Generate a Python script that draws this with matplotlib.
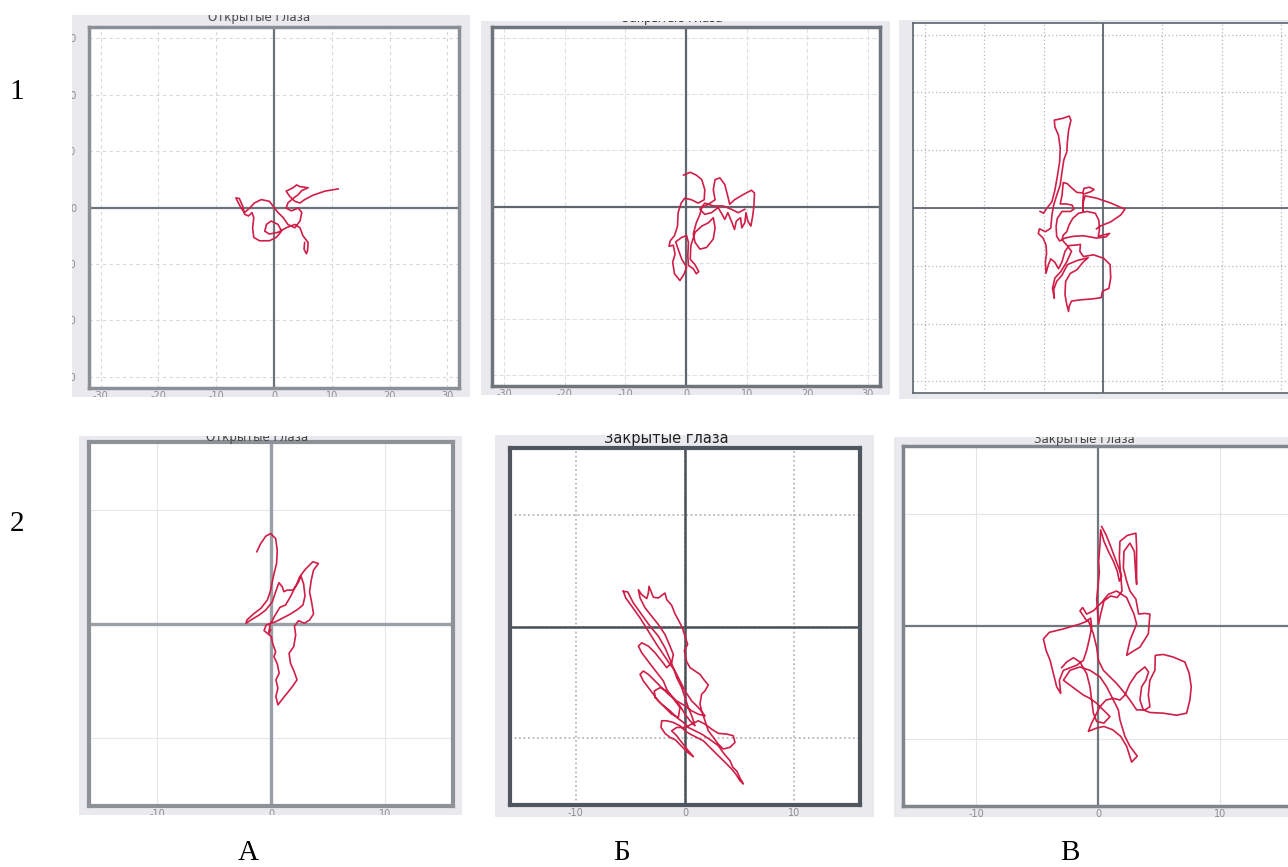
import matplotlib.pyplot as plt
from matplotlib.patches import Rectangle

# ---------- траектории ЦД (единицы осей) ----------
trace_1a = [(11.1, 3.3), (8.8, 2.9), (6.8, 2.2), (5.3, 1.4), (4.5, 0.8), (3.6, 1.1), (2.7, 2.0),
            (2.1, 2.9), (3.3, 3.5), (3.9, 4.0), (4.5, 3.7), (5.9, 3.5), (4.8, 3.0), (4.2, 2.3),
            (3.3, 1.6), (2.4, 0.8), (2.1, -0.1), (3.0, -0.6), (4.2, -0.1), (4.8, -0.9), (4.5, -2.4),
            (3.6, -3.6), (2.4, -3.0), (1.6, -1.8), (0.7, -0.9), (0.1, -0.1), (-0.8, 1.1), (-2.2, 1.4),
            (-3.4, 0.8), (-4.2, -0.1), (-5.1, -0.9), (-5.7, -0.1), (-6.3, 1.1), (-6.6, 1.7), (-6.0, 1.6),
            (-5.4, 0.2), (-5.1, -1.2), (-4.4, -1.5), (-3.8, -0.9), (-3.5, -1.8), (-3.7, -3.6),
            (-3.5, -5.3), (-2.5, -5.9), (-0.8, -5.9), (0.4, -5.3), (1.3, -4.2), (0.7, -3.0),
            (-0.5, -2.4), (-1.3, -3.0), (-1.6, -4.2), (-0.8, -4.7), (0.7, -4.4), (2.1, -3.6),
            (3.6, -3.0), (4.5, -3.6), (5.0, -5.0), (5.9, -6.2), (5.8, -7.7), (5.6, -8.2), (5.2, -7.4),
            (5.3, -6.2)]

trace_1b = [(-0.4, 5.6), (0.7, 6.1), (1.7, 5.6), (2.6, 4.8), (3.1, 3.0), (3.0, 1.2), (2.0, 0.6),
            (0.9, 1.2), (-0.2, 1.5), (-0.8, 0.6), (-1.3, -1.1), (-1.4, -3.5), (-1.9, -5.2), (-2.6, -6.1),
            (-2.8, -7.1), (-2.1, -6.9), (-1.8, -8.5), (-2.2, -9.9), (-1.9, -12.0), (-1.0, -13.2),
            (-0.3, -12.0), (0.1, -10.8), (-0.7, -9.4), (-1.3, -7.6), (-1.7, -6.3), (-0.7, -5.5),
            (0.1, -5.2), (0.4, -6.4), (0.3, -8.8), (0.4, -10.5), (1.2, -11.1), (1.7, -12.0),
            (2.1, -11.6), (1.5, -10.4), (0.7, -9.4), (0.8, -7.0), (1.5, -4.6), (2.6, -3.5),
            (3.7, -2.9), (4.5, -2.0), (4.8, -3.8), (4.5, -5.8), (3.4, -7.3), (2.3, -7.6), (1.5, -6.4),
            (1.2, -4.9), (1.7, -2.9), (2.3, -1.4), (2.6, -0.2), (3.7, 0.4), (4.8, 1.2), (4.5, 3.0),
            (4.8, 4.8), (5.6, 5.1), (6.4, 3.9), (6.9, 1.8), (7.2, 0.4), (8.0, 1.2), (9.4, 2.1),
            (10.8, 2.9), (11.3, 2.4), (11.2, 0.1), (11.0, -1.7), (10.7, -3.5), (10.2, -2.6),
            (9.9, -1.1), (9.7, -2.9), (9.2, -3.8), (9.0, -2.0), (8.3, -2.6), (8.0, -4.1), (7.6, -2.9),
            (6.9, -1.1), (6.4, -2.3), (5.8, -1.1), (5.3, -0.2), (4.2, -1.1), (3.1, -1.4), (2.3, -0.5),
            (3.1, 0.6), (4.5, 0.1), (6.1, 0.1), (7.5, -0.5), (8.6, -1.1), (9.7, -0.5)]

trace_1c = [(-10.6, -0.6), (-10.0, -0.9), (-9.5, -0.1), (-8.6, 1.1), (-8.1, 3.1), (-7.7, 5.4),
            (-7.3, 8.0), (-7.2, 10.3), (-7.5, 12.6), (-8.1, 14.0), (-8.2, 15.2), (-6.8, 15.5),
            (-5.7, 15.9), (-5.4, 15.2), (-5.8, 13.4), (-6.0, 11.4), (-6.1, 9.7), (-6.6, 8.3),
            (-6.9, 6.3), (-7.2, 4.0), (-7.8, 2.2), (-8.3, 0.5), (-8.6, -1.2), (-8.8, -3.5),
            (-9.7, -4.1), (-10.7, -3.6), (-10.9, -4.4), (-10.1, -5.2), (-9.6, -6.4), (-9.5, -7.8),
            (-9.7, -9.3), (-9.6, -11.3), (-9.2, -9.8), (-8.8, -8.8), (-8.1, -9.4), (-7.5, -10.5),
            (-6.9, -9.3), (-6.4, -7.5), (-5.7, -6.5), (-4.5, -6.4), (-3.8, -6.3), (-3.9, -7.5),
            (-3.3, -8.4), (-1.6, -8.1), (0.1, -8.7), (1.2, -9.8), (1.3, -12.1), (1.0, -13.9),
            (-0.1, -14.4), (-0.3, -15.5), (-1.6, -15.7), (-3.9, -15.9), (-5.3, -16.1), (-5.7, -17.0),
            (-5.8, -17.9), (-6.1, -16.7), (-6.4, -15.0), (-6.3, -12.7), (-5.5, -11.3), (-4.4, -10.7),
            (-3.3, -9.3), (-2.5, -8.6), (-4.4, -9.1), (-6.0, -9.8), (-6.9, -11.6), (-7.8, -12.7),
            (-8.3, -14.1), (-8.2, -15.6), (-8.5, -13.9), (-8.1, -12.1), (-7.1, -11.0), (-6.1, -9.3),
            (-5.3, -7.5), (-6.1, -6.4), (-6.9, -5.5), (-6.7, -4.7), (-6.1, -4.1), (-5.7, -2.9),
            (-5.1, -1.8), (-4.1, -0.9), (-2.7, -0.6), (-1.3, -0.9), (-0.7, -2.1), (-0.6, -3.8),
            (-0.8, -4.9), (1.1, -4.4), (0.5, -5.0), (-1.1, -5.2), (-3.3, -4.8), (-5.0, -4.9),
            (-6.4, -5.2), (-7.3, -5.7), (-7.8, -4.9), (-7.9, -3.2), (-7.7, -1.8), (-6.9, -0.6),
            (-5.5, -0.6), (-4.9, -0.2), (-5.2, 0.5), (-6.2, 0.7), (-7.2, 0.7), (-6.9, 2.2),
            (-6.7, 4.4), (-6.0, 4.2), (-5.3, 3.5), (-4.4, 2.7), (-3.4, 2.6), (-3.2, 3.4), (-2.3, 3.6),
            (-1.5, 3.2), (-2.1, 2.8), (-3.3, 2.4), (-3.4, 1.1), (-3.4, -0.6), (-3.3, 1.1), (-3.0, 2.1),
            (-1.1, 1.7), (1.2, 0.9), (3.7, -0.2), (3.0, -1.2), (1.3, -2.4), (-0.4, -3.1), (-1.1, -3.6)]

trace_2a = [(-1.25, 6.35), (-0.9, 7.08), (-0.46, 7.72), (-0.03, 7.95), (0.41, 7.51), (0.55, 6.49),
            (0.49, 5.32), (0.2, 4.15), (-0.03, 2.98), (-0.32, 2.11), (-0.9, 1.37), (-1.54, 0.88),
            (-2.12, 0.35), (-2.2, 0.06), (-1.77, 0.35), (-1.04, 0.79), (-0.46, 1.23), (0.12, 1.96),
            (0.41, 2.84), (0.7, 3.63), (0.99, 3.27), (1.13, 2.84), (1.42, 2.98), (1.94, 2.98),
            (2.23, 3.42), (2.52, 4.15), (3.01, 4.8), (3.68, 5.47), (4.17, 5.32), (3.74, 4.74),
            (3.54, 3.86), (3.39, 2.84), (3.59, 1.81), (3.74, 0.88), (3.39, 0.35), (2.93, 0.06),
            (2.43, 0.29), (2.06, -0.18), (2.17, -0.96), (2.0, -1.99), (1.59, -2.57), (1.71, -3.45),
            (2.0, -4.09), (2.29, -4.91), (1.88, -5.5), (1.42, -6.08), (0.99, -6.61), (0.61, -7.11),
            (0.43, -6.37), (0.61, -5.64), (0.43, -4.91), (0.72, -4.33), (0.55, -3.51), (0.26, -2.87),
            (0.41, -2.43), (0.14, -1.7), (0.03, -1.11), (-0.32, -0.82), (-0.61, -0.58), (-0.43, -0.09),
            (-0.03, 0.06), (0.41, 0.2), (0.99, 0.5), (1.71, 0.88), (2.35, 1.29), (2.81, 1.67),
            (2.99, 2.46), (2.87, 3.51), (2.64, 4.21), (2.43, 3.71), (2.14, 3.27), (1.71, 2.4),
            (1.28, 1.67), (0.78, 1.46), (0.32, 0.7), (-0.09, -0.09), (-0.2, -0.82), (-0.03, -0.53)]

trace_2b = [(-5.63, 3.15), (-5.24, 3.1), (-4.72, 2.11), (-3.96, 1.07), (-3.2, 0.03), (-2.44, -0.86),
            (-1.83, -1.9), (-1.37, -2.95), (-1.07, -3.69), (-0.76, -4.58), (-0.3, -5.48), (0.0, -6.37),
            (0.3, -7.26), (0.67, -8.15), (0.91, -8.9), (0.46, -8.45), (0.0, -7.86), (-0.46, -7.11),
            (-1.07, -6.37), (-1.67, -5.77), (-2.28, -5.48), (-2.8, -5.77), (-2.74, -6.37), (-2.13, -6.96),
            (-1.37, -7.56), (-0.76, -8.15), (-0.15, -8.6), (0.3, -9.05), (0.91, -9.35), (1.52, -9.64),
            (1.98, -9.94), (2.44, -10.24), (3.04, -10.68), (3.59, -11.43), (4.11, -12.02), (4.38, -12.62),
            (4.75, -12.98), (5.02, -13.57), (5.33, -14.11), (5.02, -13.81), (4.63, -13.21), (4.26, -12.77),
            (3.81, -12.32), (3.35, -11.88), (2.89, -11.43), (2.28, -10.83), (1.67, -10.24), (1.07, -9.94),
            (0.46, -9.64), (0.0, -9.35), (-0.46, -8.9), (-1.07, -8.6), (-1.67, -8.45), (-2.13, -8.45),
            (-2.19, -9.05), (-1.83, -9.58), (-1.37, -9.94), (-0.85, -10.18), (-0.37, -10.68), (0.24, -11.28),
            (0.76, -11.67), (0.3, -11.13), (-0.3, -10.39), (-0.76, -9.79), (-1.22, -9.35), (-0.76, -9.05),
            (0.0, -9.05), (0.61, -8.75), (1.22, -8.45), (1.83, -8.75), (2.44, -9.2), (3.04, -9.58),
            (3.81, -9.64), (4.41, -9.79), (4.57, -10.39), (4.11, -10.83), (3.5, -10.98), (3.04, -10.54),
            (2.59, -9.94), (2.13, -9.35), (1.83, -8.45), (1.52, -7.56), (1.37, -6.96), (1.52, -6.07),
            (1.83, -5.77), (2.13, -5.24), (1.77, -4.82), (1.37, -4.29), (0.91, -3.99), (0.46, -3.69),
            (0.15, -3.15), (-0.06, -2.14), (0.24, -1.61), (0.0, -0.86), (-0.24, -0.12), (-0.55, 0.48),
            (-0.91, 1.13), (-1.22, 1.9), (-1.67, 2.41), (-1.83, 3.0), (-2.44, 2.56), (-2.89, 2.62),
            (-3.29, 3.6), (-3.35, 3.0), (-3.5, 2.5), (-3.96, 2.86), (-4.26, 3.3), (-4.11, 2.56),
            (-3.65, 1.67), (-3.04, 0.92), (-2.44, 0.18), (-1.83, -0.71), (-1.37, -1.76), (-1.07, -2.5),
            (-1.22, -3.24), (-1.67, -3.69), (-2.13, -3.1), (-2.74, -2.35), (-3.35, -1.76), (-3.96, -1.46),
            (-4.26, -1.76), (-3.96, -2.35), (-3.5, -2.95), (-3.04, -3.54), (-2.44, -4.29), (-1.98, -4.88),
            (-1.67, -5.63), (-1.37, -6.07), (-0.91, -6.67), (-0.46, -7.26), (-0.61, -8.15), (-1.22, -7.86),
            (-1.83, -7.26), (-2.44, -6.67), (-2.89, -6.07), (-3.35, -5.48), (-3.81, -4.88), (-4.11, -4.29),
            (-3.81, -3.99), (-3.35, -4.29), (-2.74, -4.88), (-2.13, -5.48), (-1.52, -6.07), (-0.76, -6.67),
            (0.0, -7.11), (0.61, -7.56), (1.22, -7.86), (1.83, -8.01), (1.22, -7.26), (0.61, -6.67),
            (0.0, -5.77), (-0.46, -4.88), (-0.91, -3.99), (-1.37, -3.39), (-1.98, -2.5), (-2.59, -1.61),
            (-3.35, -0.42), (-4.11, 0.77), (-4.87, 1.82), (-5.42, 2.56), (-5.63, 3.15)]

trace_2c = [(0.30, 8.84), (0.66, 8.11), (1.04, 7.08), (1.39, 6.05), (1.75, 5.02), (1.94, 4.43),
            (1.75, 3.99), (1.58, 4.88), (1.26, 5.76), (0.85, 6.64), (0.49, 7.52), (0.22, 8.55),
            (0.16, 7.22), (0.05, 5.76), (0.11, 4.73), (0.0, 3.55), (-0.11, 2.38), (-0.03, 1.20),
            (0.05, 0.18), (0.22, 1.06), (0.49, 2.23), (1.04, 2.67), (1.58, 2.53), (1.97, 3.11),
            (1.86, 4.58), (1.75, 6.05), (1.80, 7.52), (2.40, 8.05), (3.11, 8.25), (3.17, 6.93),
            (3.17, 5.46), (3.17, 3.70), (3.06, 5.17), (2.98, 6.64), (2.62, 7.37), (2.13, 6.64),
            (2.08, 5.17), (2.35, 3.99), (2.62, 3.11), (3.11, 2.38), (3.33, 1.06), (3.85, 1.12),
            (4.26, 1.06), (4.13, -0.70), (3.44, -1.88), (2.90, -2.23), (2.35, -2.61), (2.62, -1.29),
            (3.17, 0.18), (2.95, 1.06), (2.35, 2.53), (1.53, 3.11), (0.85, 2.82), (0.30, 2.09),
            (-0.38, 1.35), (-0.93, 1.06), (-1.26, 1.64), (-1.48, 1.35), (-0.93, 0.47), (-0.60, 0.70),
            (-0.52, -0.12), (-0.71, -1.15), (-0.93, -2.17), (-1.20, -3.05), (-1.75, -3.49), (-2.84, -3.94),
            (-3.17, -4.82), (-3.06, -5.99), (-3.39, -5.40), (-3.66, -4.23), (-3.93, -3.05), (-4.26, -2.17),
            (-4.48, -1.15), (-3.99, -0.56), (-2.84, -0.26), (-1.48, 0.18), (-0.79, 0.47), (-0.38, -0.70),
            (-0.11, -1.88), (0.03, -3.05), (0.44, -3.94), (0.98, -4.52), (1.53, -5.11), (2.21, -5.99),
            (2.62, -6.58), (3.17, -7.46), (3.85, -7.46), (4.26, -7.17), (4.13, -6.14), (4.26, -4.82),
            (4.67, -3.94), (4.70, -2.61), (5.36, -2.53), (6.17, -2.76), (7.13, -3.20), (7.49, -4.23),
            (7.65, -5.40), (7.54, -6.58), (7.27, -7.75), (6.45, -7.93), (5.36, -7.75), (4.26, -7.69),
            (3.72, -7.46), (3.44, -6.58), (3.58, -5.40), (3.93, -4.82), (4.15, -4.08), (3.85, -3.64),
            (3.17, -4.23), (2.62, -5.11), (2.21, -6.14), (1.80, -6.58), (1.26, -6.43), (0.66, -6.58),
            (0.16, -7.17), (-0.11, -7.75), (-0.52, -8.63), (-0.79, -9.37), (-0.11, -9.07), (0.49, -8.93),
            (1.20, -9.22), (1.86, -9.81), (2.35, -10.69), (2.76, -12.10), (3.22, -11.57), (2.62, -10.69),
            (2.21, -9.81), (1.80, -8.34), (1.67, -7.46), (1.26, -6.58), (0.71, -5.40), (0.16, -4.52),
            (-0.66, -3.94), (-1.48, -3.64), (-2.30, -3.94), (-2.84, -4.82), (-2.30, -5.26), (-1.75, -5.70),
            (-1.20, -6.14), (-0.66, -6.43), (-0.11, -6.87), (0.44, -7.46), (0.98, -8.05), (0.49, -8.63),
            (-0.11, -8.49), (-0.38, -7.75), (-0.52, -6.58), (-0.66, -5.40), (-0.93, -4.23), (-1.48, -3.20),
            (-2.02, -2.82), (-2.57, -3.20), (-2.98, -3.70)]

titles = ['Открытые глаза', 'Закрытые глаза', '', 'Открытые глаза', 'Закрытые глаза', 'Закрытые глаза']
row_labels = ['1', '2']
col_labels = ['А', 'Б', 'В']
ticks_row1 = [-30, -20, -10, 0, 10, 20, 30]
ticks_row2 = [-10, 0, 10]
############################################################################

W, H = 1288, 867
fig = plt.figure(figsize=(W / 100, H / 100), dpi=100)
fig.patch.set_facecolor('white')


def px_rect(x0, y0, x1, y1, color, z):
    fig.patches.append(Rectangle((x0 / W, 1 - y1 / H), (x1 - x0) / W, (y1 - y0) / H,
                                 transform=fig.transFigure, facecolor=color,
                                 edgecolor='none', zorder=z))


# shot = серая рамка скриншота, box = сама область графика (пиксели)
panels = [
    dict(pts=trace_1a, shot=(72, 14, 470, 397), box=(89, 27, 459, 388), lim=32, ticks=ticks_row1,
         xlab=True, ylab=True, spine=('#8a9096', 2.5), grid=('#d3d9dc', (0, (3, 3)), 0.8),
         cross=('#6c737a', 1.6), title=(titles[0], 259, 18, 8.5, '#4a4a4a', 15)),
    dict(pts=trace_1b, shot=(481, 20, 890, 395), box=(492, 27, 880, 386), lim=32, ticks=ticks_row1,
         xlab=True, ylab=False, spine=('#6f757c', 2.5), grid=('#dde2e5', (0, (4, 2)), 0.8),
         cross=('#5f666e', 1.6), title=(titles[1], 672, 18.5, 8.5, '#333333', 21)),
    dict(pts=trace_1c, shot=(899, 20, 1288, 399), box=(913, 23, 1293, 393), lim=32, ticks=ticks_row1,
         xlab=False, ylab=False, spine=('#5d6470', 1.2), grid=('#b9b9b9', (0, (1, 2)), 0.9),
         cross=('#5f6670', 1.3), title=(titles[2], 1062, 20, 8, '#333333', 20)),
    dict(pts=trace_2a, shot=(79, 436, 462, 815), box=(89, 442, 453, 806), lim=16, ticks=ticks_row2,
         xlab=True, ylab=False, spine=('#8c9298', 3.0), grid=('#e4e8ea', '-', 0.8),
         cross=('#9aa0a6', 2.4), title=(titles[3], 257, 437, 8.5, '#444444', 436)),
    dict(pts=trace_2b, shot=(495, 435, 874, 817), box=(510, 448, 860, 805), lim=16, ticks=ticks_row2,
         xlab=True, ylab=False, spine=('#4f5660', 3.0), grid=('#b4b9bd', (0, (1, 1.5)), 1.3),
         cross=('#4a5058', 1.8), title=(titles[4], 666, 438, 10.5, '#222222', 434)),
    dict(pts=trace_2c, shot=(894, 437, 1288, 817), box=(903, 446, 1293, 806), lim=16, ticks=ticks_row2,
         xlab=True, ylab=False, spine=('#80868c', 2.5), grid=('#e2e6e8', '-', 0.8),
         cross=('#70787e', 1.6), title=(titles[5], 1084, 440, 8.5, '#444444', 437)),
]

for p in panels:
    sx0, sy0, sx1, sy1 = p['shot']
    t, tx, ty, ts, tcol, cut = p['title']
    px_rect(sx0, sy0, sx1, sy1, '#e9e9ee', -5)
    # то, что вылезает за скриншот, в оригинале обрезано
    px_rect(sx0 - 2, sy0 - 24, sx1 + 2, cut, 'white', 10)
    px_rect(sx0 - 2, sy1, sx1 + 2, sy1 + 20, 'white', 10)

    x0, y0, x1, y1 = p['box']
    ax = fig.add_axes([x0 / W, 1 - y1 / H, (x1 - x0) / W, (y1 - y0) / H])
    ax.set_facecolor('white')
    L = p['lim']
    ax.set_xlim(-L, L)
    ax.set_ylim(-L, L)
    ax.set_xticks(p['ticks'])
    ax.set_yticks(p['ticks'])
    ax.set_xticklabels([str(v) for v in p['ticks']] if p['xlab'] else [])
    ax.set_yticklabels([str(v) for v in p['ticks']] if p['ylab'] else [])
    ax.tick_params(length=0, labelsize=7, labelcolor='#8a8d90')
    ax.tick_params(axis='x', pad=2)
    ax.tick_params(axis='y', pad=9)

    gc, gls, glw = p['grid']
    ax.grid(True, color=gc, linestyle=gls, linewidth=glw)
    ax.set_axisbelow(True)
    for s in ax.spines.values():
        s.set_color(p['spine'][0])
        s.set_linewidth(p['spine'][1])

    cc, clw = p['cross']
    ax.axhline(0, color=cc, linewidth=clw, zorder=2)
    ax.axvline(0, color=cc, linewidth=clw, zorder=2)

    xs = [q[0] for q in p['pts']]
    ys = [q[1] for q in p['pts']]
    ax.plot(xs, ys, color='#cf1f48', linewidth=1.2, zorder=3)

    if t:
        fig.text(tx / W, 1 - ty / H, t, ha='center', va='center', fontsize=ts,
                 color=tcol, zorder=5)

# левый край первой панели (обрезанные подписи оси Y)
px_rect(0, 14, 72, 397, 'white', 10)

serif = ['Liberation Serif', 'DejaVu Serif']
fig.text(17 / W, 1 - 92 / H, row_labels[0], ha='center', va='center', fontsize=21,
         family=serif, zorder=20)
fig.text(17 / W, 1 - 524 / H, row_labels[1], ha='center', va='center', fontsize=21,
         family=serif, zorder=20)
for lab, cx in zip(col_labels, [248, 622, 1070]):
    fig.text(cx / W, 1 - 853 / H, lab, ha='center', va='center', fontsize=21,
             family=serif, zorder=20)

fig.savefig('out.png', dpi=100)
